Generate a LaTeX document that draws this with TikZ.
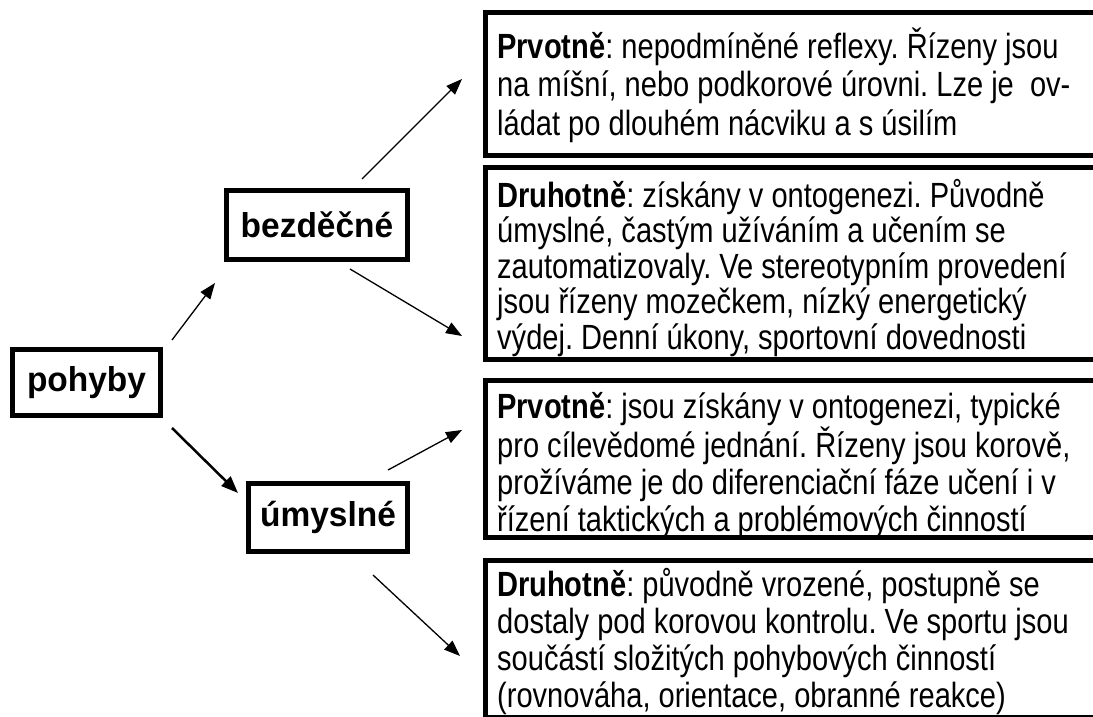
\documentclass[tikz,border=0pt]{standalone}
\usepackage{fontspec}
\setmainfont{Liberation Sans}
\newfontfamily\bodyfont{Liberation Sans}[FakeStretch=0.83]
\newfontfamily\labelfont{Liberation Sans}[FakeStretch=0.97]
\usetikzlibrary{arrows.meta}
\frenchspacing

\begin{document}
\begin{tikzpicture}[x=1pt,y=-1pt,
  lbl/.style={draw, line width=5pt, inner sep=0pt,
    font=\labelfont\fontsize{34.5}{40}\selectfont\bfseries},
  bigbox/.style={draw, line width=5pt, inner sep=0pt, anchor=north west,
    minimum width=632pt},
  body/.style={anchor=north west, align=left, inner sep=0pt},
  arr/.style={line width=1.3pt, -{Triangle[length=16pt,width=12pt]}},
  thickarr/.style={line width=2.5pt, -{Triangle[length=17pt,width=13pt]}},
]
\useasboundingbox (0,0) rectangle (1093,717);
\fill[white] (0,0) rectangle (1093,717);

% category boxes
\node[lbl, minimum width=148pt, minimum height=66pt] (poh) at (86.5,382.5) {pohyby};
\node[lbl, minimum width=181pt, minimum height=69pt] (bez) at (317,225) {bezděčné};
\node[lbl, minimum width=159pt, minimum height=68pt] (umy) at (328,517.5) {úmyslné};

% description boxes (they run on past the right edge)
\node[bigbox, minimum height=143pt] (b1) at (483,10) {};
\node[bigbox, minimum height=192pt] (b2) at (483,165) {};
\node[bigbox, minimum height=157pt] (b3) at (483,378) {};
\node[bigbox, minimum height=157pt] (b4) at (483,558) {};

% the first line of each text gets a fixed height of 34pt above its baseline
\def\fl{\rule{0pt}{34pt}}
\node[body, font=\bodyfont\fontsize{35}{38.5}\selectfont] (t1) at (497,24)
{\fl\textbf{Prvotně}: nepodmíněné reflexy. Řízeny jsou\\
na míšní, nebo podkorové úrovni. Lze je\ \ ov-\\
ládat po dlouhém nácviku a s úsilím};
\node[body, font=\bodyfont\fontsize{35}{35.5}\selectfont] (t2) at (497,173)
{\fl\textbf{Druhotně}: získány v ontogenezi. Původně\\
úmyslné, častým užíváním a učením se\\
zautomatizovaly. Ve stereotypním provedení\\
jsou řízeny mozečkem, nízký energetický\\
výdej. Denní úkony, sportovní dovednosti};
\node[body, font=\bodyfont\fontsize{35}{37}\selectfont] (t3) at (497,384)
{\fl\textbf{Prvotně}: jsou získány v ontogenezi, typické\\
pro cílevědomé jednání. Řízeny jsou korově,\\
prožíváme je do diferenciační fáze učení i v\\
řízení taktických a problémových činností};
\node[body, font=\bodyfont\fontsize{35}{37}\selectfont] (t4) at (497,562)
{\fl\textbf{Druhotně}: původně vrozené, postupně se\\
dostaly pod korovou kontrolu. Ve sportu jsou\\
součástí složitých pohybových činností\\
(rovnováha, orientace, obranné reakce)};

% free-standing arrow ends
\coordinate (a1s) at (172,340);  \coordinate (a1e) at (215,283);
\coordinate (a2s) at (172,428);  \coordinate (a2e) at (238,493);
\coordinate (a3s) at (362,179);  \coordinate (a3e) at (462,79);
\coordinate (a4s) at (350,269);  \coordinate (a4e) at (462,336);
\coordinate (a5s) at (388,470);  \coordinate (a5e) at (462,430);
\coordinate (a6s) at (373,575);  \coordinate (a6e) at (460,656);

\draw[arr] (a1s) -- (a1e);
\draw[thickarr] (a2s) -- (a2e);
\draw[arr] (a3s) -- (a3e);
\draw[arr] (a4s) -- (a4e);
\draw[arr] (a5s) -- (a5e);
\draw[arr] (a6s) -- (a6e);
\end{tikzpicture}
\end{document}
